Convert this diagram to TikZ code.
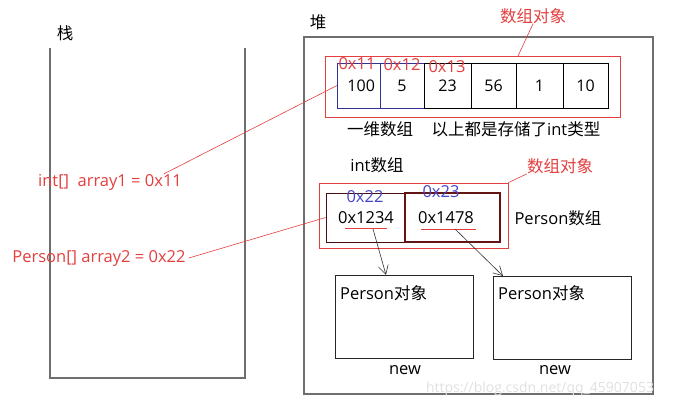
\documentclass[tikz,border=0pt]{standalone}
\usepackage{fontspec}
\setmainfont{Open Sans}
\newfontfamily\cjk{Noto Sans CJK SC}
\usetikzlibrary{positioning,arrows.meta}

\definecolor{memred}{RGB}{228,62,62}
\definecolor{memblue}{RGB}{70,70,200}
\definecolor{cellblue}{RGB}{50,50,150}
\definecolor{darkred}{RGB}{100,20,20}
\definecolor{wall}{RGB}{110,110,110}

\tikzset{
  txt/.style={font=\fontsize{16.5}{19}\selectfont, inner sep=0pt},
  redtxt/.style={txt, text=memred},
  bluetxt/.style={txt, text=memblue},
  cell/.style={draw, line width=0.8pt, minimum height=45pt, inner sep=0pt, outer sep=0pt, font=\fontsize{16}{19}\selectfont},
  redbox/.style={draw=memred, line width=0.8pt, inner sep=0pt},
  objbox/.style={draw=black!85, line width=0.8pt, inner sep=0pt},
  redlink/.style={draw=memred, line width=0.6pt},
  ptr/.style={-{Straight Barb[length=9pt,width=10pt]}, line width=0.6pt, black!80}
}

\begin{document}
\begin{tikzpicture}[x=1pt,y=-1pt]
\useasboundingbox (0,0) rectangle (674,407);

% stack and heap
\node[txt] (stacklbl) at (65,33) {\cjk 栈};
\draw[wall, line width=1.4pt] (50,48) -- (50,378) -- (245,378) -- (245,48);
\node[txt] (heaplbl) at (318,22) {\cjk 堆};
\node[draw=wall, line width=1.4pt, minimum width=349pt, minimum height=357pt, inner sep=0pt] (heap) at (478.5,215.5) {};

% int array
\node[redbox, minimum width=295pt, minimum height=61pt] (arr1) at (472.5,86.5) {};
\node[cell, draw=cellblue, minimum width=43pt, anchor=west] (c1) at (337,85.5) {\,\,100};
\node[cell, draw=cellblue, minimum width=44pt, right=0pt of c1] (c2) {5};
\node[cell, minimum width=47pt, right=0pt of c2] (c3) {23};
\node[cell, minimum width=45pt, right=0pt of c3] (c4) {56};
\node[cell, minimum width=47pt, right=0pt of c4] (c5) {1};
\node[cell, minimum width=45pt, right=0pt of c5] (c6) {10};
\node[redtxt] (ad11) at (357,64) {0x11};
\node[redtxt] (ad12) at (402,65) {0x12};
\node[redtxt] (ad13) at (447,67) {0x13};
\node[txt] (onedim) at (380,129) {\cjk 一维数组};
\node[txt] (inttype) at (516,129) {{\cjk 以上都是存储了}int{\cjk 类型}};
\node[txt] (intarr) at (377,165) {int{\cjk 数组}};
\node[redtxt] (obj1) at (533,16) {\cjk 数组对象};
\coordinate (obj1end) at (518,56);
\draw[redlink] (obj1.south) -- (obj1end);

% Person array
\node[redbox, minimum width=189pt, minimum height=65pt] (arr2) at (413.5,215.5) {};
\node[objbox, draw=darkred!70!black, minimum width=78pt, minimum height=49pt] (p1) at (365,217.5) {};
\node[objbox, draw=darkred, line width=1.6pt, minimum width=95pt, minimum height=49pt] (p2) at (452.5,217.5) {};
\node[bluetxt] (ad22) at (365,197) {0x22};
\node[bluetxt] (ad23) at (441,192) {0x23};
\node[txt] (ref1) at (366,218) {0x1234};
\node[txt] (ref2) at (446,218) {0x1478};
\draw[memred, line width=0.8pt] (345,228) -- (387,228);
\draw[memred, line width=0.8pt] (421,229) -- (476,229);
\node[txt] (personarr) at (558,218) {Person{\cjk 数组}};
\node[redtxt] (obj2) at (560,166) {\cjk 数组对象};
\draw[redlink] (obj2.south west) -- (arr2.north east);

% Person objects
\node[objbox, minimum width=138pt, minimum height=83pt] (po1) at (404,316.5) {};
\node[objbox, minimum width=138pt, minimum height=83pt] (po2) at (562,317.5) {};
\node[txt, anchor=north west] (po1lbl) at (340,285) {Person{\cjk 对象}};
\node[txt, anchor=north west] (po2lbl) at (498,285) {Person{\cjk 对象}};
\node[txt] (new1) at (405,370) {new};
\node[txt] (new2) at (555,370) {new};
\coordinate (u1) at (373,229);
\coordinate (u2) at (455,229);
\coordinate (t1) at (386,275);
\coordinate (t2) at (503,276);
\draw[ptr] (u1) -- (t1);
\draw[ptr] (u2) -- (t2);

% references on the stack
\node[redtxt] (var1) at (110,182) {int[]\ \ array1 = 0x11};
\node[redtxt] (var2) at (99,258) {Person[] array2 = 0x22};
\draw[redlink] (var1.north east) ++(-18pt,0) -- (c1.west);
\draw[redlink] (var2.east) ++(3pt,0) -- (p1.west);

\node[font=\fontsize{14}{16}\selectfont, text=black!12, inner sep=0pt] (mark) at (540,389) {https://blog.csdn.net/qq\_45907053};
\end{tikzpicture}
\end{document}
